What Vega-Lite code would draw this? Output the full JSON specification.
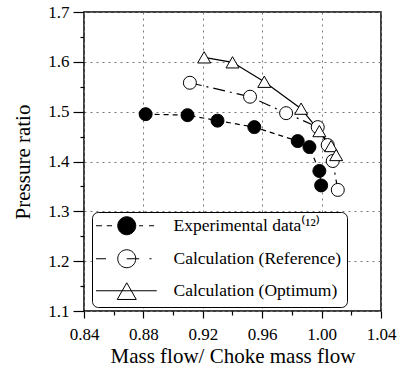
{
  "$schema": "https://vega.github.io/schema/vega-lite/v6.json",
  "autosize": "none",
  "width": 297,
  "height": 299,
  "padding": {"left": 84, "top": 12, "right": 21, "bottom": 59},
  "background": "white",
  "config": {
    "font": "Liberation Serif",
    "view": {"stroke": "black", "strokeWidth": 1.5}
  },
  "data": {
    "values": [
      {"series": "Experimental data", "x": 0.8815, "y": 1.495},
      {"series": "Experimental data", "x": 0.9097, "y": 1.493},
      {"series": "Experimental data", "x": 0.9299, "y": 1.482},
      {"series": "Experimental data", "x": 0.9547, "y": 1.469},
      {"series": "Experimental data", "x": 0.9839, "y": 1.441},
      {"series": "Experimental data", "x": 0.9918, "y": 1.429},
      {"series": "Experimental data", "x": 0.9985, "y": 1.381},
      {"series": "Experimental data", "x": 0.9997, "y": 1.352},
      {"series": "Calculation (Reference)", "x": 0.9113, "y": 1.558},
      {"series": "Calculation (Reference)", "x": 0.9518, "y": 1.530},
      {"series": "Calculation (Reference)", "x": 0.9761, "y": 1.497},
      {"series": "Calculation (Reference)", "x": 0.9974, "y": 1.469},
      {"series": "Calculation (Reference)", "x": 1.0041, "y": 1.433},
      {"series": "Calculation (Reference)", "x": 1.0075, "y": 1.401},
      {"series": "Calculation (Reference)", "x": 1.0109, "y": 1.343},
      {"series": "Calculation (Optimum)", "x": 0.9209, "y": 1.609},
      {"series": "Calculation (Optimum)", "x": 0.9400, "y": 1.599},
      {"series": "Calculation (Optimum)", "x": 0.9614, "y": 1.560},
      {"series": "Calculation (Optimum)", "x": 0.9862, "y": 1.506},
      {"series": "Calculation (Optimum)", "x": 0.9985, "y": 1.461},
      {"series": "Calculation (Optimum)", "x": 1.0064, "y": 1.431},
      {"series": "Calculation (Optimum)", "x": 1.0098, "y": 1.413}
    ]
  },
  "encoding": {
    "x": {
      "field": "x", "type": "quantitative",
      "scale": {"domain": [0.84, 1.04], "nice": false, "zero": false},
      "axis": {
        "title": "Mass flow/ Choke mass flow",
        "values": [0.84, 0.86, 0.88, 0.90, 0.92, 0.94, 0.96, 0.98, 1.00, 1.02, 1.04],
        "labelExpr": "abs(datum.value*25 - round(datum.value*25)) < 0.01 ? format(datum.value, '.2f') : ''",
        "tickSize": {"condition": {"test": "abs(datum.value*25 - round(datum.value*25)) < 0.01", "value": 7}, "value": 4},
        "gridOpacity": {"condition": {"test": "abs(datum.value*25 - round(datum.value*25)) < 0.01", "value": 1}, "value": 0},
        "grid": true, "gridDash": [2, 4], "gridColor": "#777", "gridWidth": 1,
        "domain": false, "tickColor": "black", "tickWidth": 1.2,
        "labelFontSize": 17, "labelColor": "black", "labelPadding": 8, "labelFlush": false,
        "titleFontSize": 21, "titleFontWeight": "normal", "titleColor": "black", "titlePadding": 3
      }
    },
    "y": {
      "field": "y", "type": "quantitative",
      "scale": {"domain": [1.1, 1.7], "nice": false, "zero": false},
      "axis": {
        "title": "Pressure ratio",
        "values": [1.1, 1.15, 1.2, 1.25, 1.3, 1.35, 1.4, 1.45, 1.5, 1.55, 1.6, 1.65, 1.7],
        "labelExpr": "abs(datum.value*10 - round(datum.value*10)) < 0.01 ? format(datum.value, '.1f') : ''",
        "tickSize": {"condition": {"test": "abs(datum.value*10 - round(datum.value*10)) < 0.01", "value": 11}, "value": 4},
        "gridOpacity": {"condition": {"test": "abs(datum.value*10 - round(datum.value*10)) < 0.01", "value": 1}, "value": 0},
        "grid": true, "gridDash": [2, 4], "gridColor": "#777", "gridWidth": 1,
        "domain": false, "tickColor": "black", "tickWidth": 1.2,
        "labelFontSize": 17, "labelColor": "black", "labelPadding": 4,
        "titleFontSize": 21, "titleFontWeight": "normal", "titleColor": "black", "titlePadding": 14
      }
    }
  },
  "layer": [
    {
      "transform": [{"filter": "datum.series === 'Experimental data'"}],
      "mark": {"type": "line", "color": "black", "strokeWidth": 1.2, "strokeDash": [5, 4]},
      "encoding": {}
    },
    {
      "transform": [{"filter": "datum.series === 'Calculation (Reference)'"}],
      "mark": {"type": "line", "color": "black", "strokeWidth": 1.2, "strokeDash": [12, 5, 2, 5]},
      "encoding": {}
    },
    {
      "transform": [{"filter": "datum.series === 'Calculation (Optimum)'"}],
      "mark": {"type": "line", "color": "black", "strokeWidth": 1.2},
      "encoding": {}
    },
    {
      "mark": {"type": "point", "filled": true, "stroke": "black", "strokeWidth": 1, "size": 169, "opacity": 1},
      "encoding": {
        "shape": {
          "field": "series", "type": "nominal",
          "scale": {"domain": ["Calculation (Optimum)", "Calculation (Reference)", "Experimental data"],
                    "range": ["triangle-up", "circle", "circle"]},
          "legend": null
        },
        "fill": {
          "field": "series", "type": "nominal",
          "scale": {"domain": ["Experimental data", "Calculation (Reference)", "Calculation (Optimum)"],
                    "range": ["black", "white", "white"]},
          "legend": {
            "title": null, "orient": "none", "legendX": 8, "legendY": 200,
            "strokeColor": "black", "cornerRadius": 6, "fillColor": "white", "padding": 5,
            "symbolSize": 256, "symbolOffset": 21, "symbolStrokeWidth": 1, "symbolStrokeColor": "black",
            "symbolType": {"expr": "datum.value === 'Experimental data' ? 'M-3.84,0L-3.09,0M-2.5,0L-1.84,0M1.125,0C1.125,0.621,0.621,1.125,0,1.125C-0.621,1.125,-1.125,0.621,-1.125,0C-1.125,-0.621,-0.621,-1.125,0,-1.125C0.621,-1.125,1.125,-0.621,1.125,0ZM1.54,0L2.04,0M2.79,0L3.41,0' : (datum.value === 'Calculation (Reference)' ? 'M-3.84,0L-2.59,0M1.125,0C1.125,0.621,0.621,1.125,0,1.125C-0.621,1.125,-1.125,0.621,-1.125,0C-1.125,-0.621,-0.621,-1.125,0,-1.125C0.621,-1.125,1.125,-0.621,1.125,0ZM0,0L1.56,0M2.84,0L3.09,0' : 'M-3.84,0L3.75,0M0,-1.0L1.19,1.09L-1.19,1.09Z')"},
            "labelOffset": 38, "rowPadding": 10, "labelFontSize": 17.5, "labelColor": "black", "labelLimit": 400,
            "labelExpr": "datum.value === 'Experimental data' ? 'Experimental data⁽¹²⁾' : datum.label",
            "encode": {
              "symbols": {
                "stroke": {"value": "black"},
                "strokeWidth": {"value": 1}
              }
            }
          }
        }
      }
    }
  ]
}
